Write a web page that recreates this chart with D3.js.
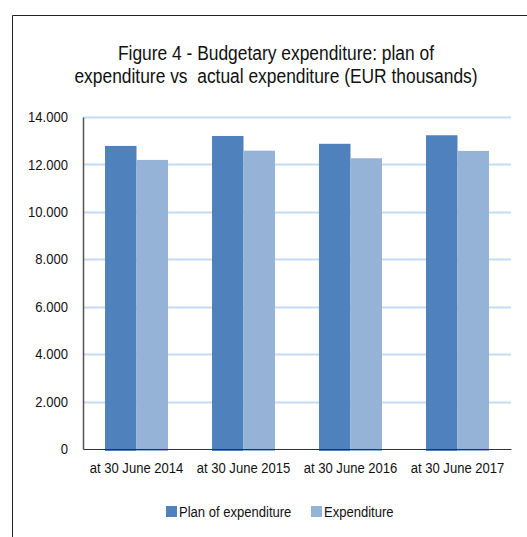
<!DOCTYPE html>
<html>
<head>
<meta charset="utf-8">
<script src="https://cdn.jsdelivr.net/npm/d3@7"></script>
<style>
  body { margin: 0; background: #fff; }
  svg { display: block; font-family: "Liberation Sans", Arial, sans-serif; }
</style>
</head>
<body>
<div id="graf"></div>
<script>
const categorias = ["at 30 June 2014", "at 30 June 2015", "at 30 June 2016", "at 30 June 2017"];
const series = ["Plan of expenditure", "Expenditure"];
const plan = [12780, 13200, 12870, 13230];
const gasto = [12190, 12580, 12260, 12570];
const ticks = [0, 2000, 4000, 6000, 8000, 10000, 12000, 14000];

const ancho_total = 527;
const alto_total = 537;
const margins = { top: 117, left: 83, right: 16, bottom: 88 };
const ancho = ancho_total - margins.left - margins.right;
const alto = alto_total - margins.top - margins.bottom;

const colores = { "Plan of expenditure": "#4f81bd", "Expenditure": "#95b3d7" };

// la fuente original es estrecha (Arial Narrow): se comprime en horizontal
const estrechar = (sel, sx) => {
  sel.each(function () {
    const t = d3.select(this);
    const x = +t.attr("x") || 0;
    t.attr("transform", `translate(${x},0) scale(${sx},1) translate(${-x},0)`);
  });
};

const svgRoot = d3.select("#graf")
  .append("svg")
  .attr("width", ancho_total)
  .attr("height", alto_total);

// marco exterior (solo arriba e izquierda se ven)
svgRoot.append("path")
  .attr("d", `M12.5,${alto_total} V15.5 H${ancho_total}`)
  .attr("fill", "none")
  .attr("stroke", "#222")
  .attr("stroke-width", 1);

const titulo = svgRoot.append("text")
  .attr("x", 276)
  .attr("text-anchor", "middle")
  .attr("font-size", "20px")
  .attr("fill", "#111");
titulo.append("tspan").attr("x", 276).attr("y", 60).text("Figure 4 - Budgetary expenditure: plan of");
titulo.append("tspan").attr("x", 276).attr("y", 83).attr("xml:space", "preserve")
  .text("expenditure vs  actual expenditure (EUR thousands)");
estrechar(titulo, 0.87);

const svg = svgRoot.append("g")
  .attr("transform", `translate(${margins.left}, ${margins.top})`);

const y = d3.scaleLinear().domain([0, 14000]).range([alto, 0]);
const x0 = d3.scaleBand().domain(categorias).range([0, ancho]).paddingInner(0).paddingOuter(0);
const x1 = d3.scaleBand().domain(series).range([0, 63]);

const fmt = (v) => d3.format(",")(v).replace(/,/g, ".");

// lineas de rejilla
svg.append("g")
  .selectAll("line")
  .data(ticks.filter((t) => t > 0))
  .join("line")
  .attr("x1", 0)
  .attr("x2", ancho)
  .attr("y1", (d) => Math.round(y(d)) + 0.5)
  .attr("y2", (d) => Math.round(y(d)) + 0.5)
  .attr("stroke", "#c3dcf3")
  .attr("stroke-width", 2);

// barras
const datos = categorias.map((c, i) => ({ cat: c, valores: [
  { serie: series[0], v: plan[i] },
  { serie: series[1], v: gasto[i] }
] }));

const grupos = svg.selectAll(".grupo")
  .data(datos)
  .join("g")
  .attr("class", "grupo")
  .attr("transform", (d) => `translate(${x0(d.cat) + (x0.bandwidth() - 63) / 2}, 0)`);

grupos.selectAll("rect")
  .data((d) => d.valores)
  .join("rect")
  .attr("x", (d) => x1(d.serie))
  .attr("width", x1.bandwidth())
  .attr("y", (d) => y(d.v))
  .attr("height", (d) => alto - y(d.v) + 2)
  .attr("fill", (d) => colores[d.serie]);

// eje y
const ejeY = svg.append("g")
  .call(d3.axisLeft(y).tickValues(ticks).tickFormat(fmt).tickSize(0).tickPadding(15));
ejeY.select(".domain").attr("stroke", "#555").attr("stroke-width", 1.5);
ejeY.selectAll("text")
  .attr("font-family", "Liberation Sans, Arial, sans-serif")
  .attr("font-size", "14.5px")
  .attr("fill", "#111")
  .call(estrechar, 0.9);

// eje x
const ejeX = svg.append("g")
  .attr("transform", `translate(0, ${alto})`)
  .call(d3.axisBottom(x0).tickSize(0).tickPadding(14));
ejeX.select(".domain").attr("stroke", "#333").attr("stroke-width", 1.2);
ejeX.selectAll("text")
  .attr("font-family", "Liberation Sans, Arial, sans-serif")
  .attr("font-size", "14.5px")
  .attr("fill", "#111")
  .call(estrechar, 0.9);

// leyenda
const leyendaPos = [166, 311];
const leyenda = svgRoot.append("g")
  .selectAll("g")
  .data(series)
  .join("g")
  .attr("transform", (d, i) => `translate(${leyendaPos[i]}, 506)`);
leyenda.append("rect")
  .attr("width", 11)
  .attr("height", 11)
  .attr("fill", (d) => colores[d]);
leyenda.append("text")
  .attr("x", 13)
  .attr("y", 11)
  .attr("font-size", "14.5px")
  .attr("fill", "#111")
  .text((d) => d)
  .call(estrechar, 0.9);
</script>
</body>
</html>
